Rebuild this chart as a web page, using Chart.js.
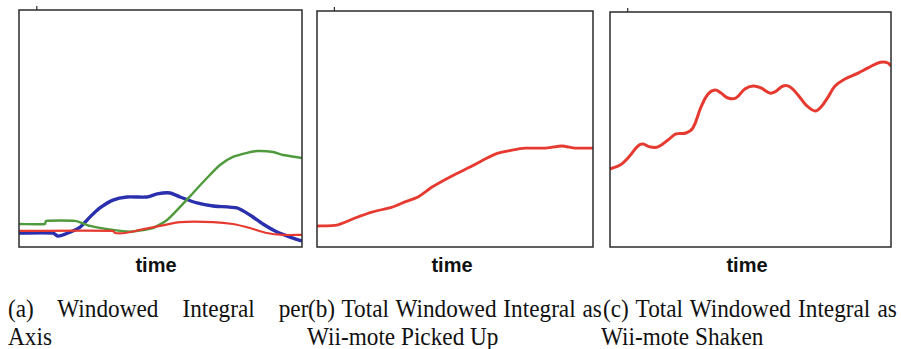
<!DOCTYPE html>
<html>
<head>
<meta charset="utf-8">
<script src="https://cdn.jsdelivr.net/npm/chart.js@4"></script>
<style>
  html, body { margin: 0; padding: 0; background: #fff; }
  body { width: 901px; height: 349px; position: relative; overflow: hidden; }
  canvas { position: absolute; }
  .xlab {
    position: absolute; top: 254px; width: 80px; margin-left: -40px;
    text-align: center; font: bold 20px/22px "Liberation Sans", Arial, sans-serif; color: #111;
  }
  .cap {
    position: absolute; font: 25px/28px "Liberation Serif", "Times New Roman", serif;
    color: #111; white-space: nowrap; transform-origin: 0 0; transform: scaleX(0.93);
  }
  .cap.just { text-align: justify; text-align-last: justify; }
</style>
</head>
<body>
<canvas id="chartA" width="289" height="246" style="left:16px;top:4px"></canvas>
<canvas id="chartB" width="282" height="245" style="left:314px;top:5px"></canvas>
<canvas id="chartC" width="287" height="244" style="left:607px;top:6px"></canvas>

<div class="xlab" style="left:156px">time</div>
<div class="xlab" style="left:452px">time</div>
<div class="xlab" style="left:747px">time</div>

<div class="cap just" style="left:8px;top:295px;width:323px">(a) Windowed Integral per</div>
<div class="cap" style="left:8px;top:323px">Axis</div>
<div class="cap just" style="left:308px;top:295px;width:316px">(b) Total Windowed Integral as</div>
<div class="cap" style="left:307px;top:323px">Wii-mote Picked Up</div>
<div class="cap just" style="left:603px;top:295px;width:316px">(c) Total Windowed Integral as</div>
<div class="cap" style="left:601px;top:323px">Wii-mote Shaken</div>

<script>
// ── Data: time is 0–100 across each panel, value 0–100 up each panel ──────────
// (a) windowed integral per axis
const aGreenT = [0, 9.2, 9.5, 19.8, 25.1, 33.2, 39.2, 47.3, 52.3, 56.9, 61.5, 66.4, 71.0, 75.6, 80.6, 84.1, 89.8, 93.3, 100];
const aGreenV = [9.7, 9.7, 11.0, 11.0, 8.9, 7.2, 6.5, 8.0, 11.4, 16.9, 22.8, 29.1, 34.6, 38.0, 39.7, 40.5, 40.1, 38.8, 37.6];

const aBlueT = [0, 12.0, 13.8, 17.3, 21.6, 25.1, 28.6, 33.2, 38.2, 45.2, 48.8, 53.4, 56.9, 62.9, 68.6, 77.0, 81.6, 86.2, 91.2, 95.8, 100];
const aBlueV = [5.9, 5.9, 4.6, 5.9, 8.4, 12.7, 16.5, 19.8, 21.1, 21.1, 22.4, 22.8, 21.1, 18.6, 17.3, 16.5, 13.5, 9.7, 6.3, 4.2, 2.5];

const aRedT = [0, 33.2, 33.9, 37.5, 42.8, 49.8, 56.9, 68.6, 75.6, 81.6, 87.6, 93.3, 100];
const aRedV = [6.8, 6.8, 5.9, 5.9, 7.2, 8.9, 10.5, 10.5, 9.7, 8.0, 5.9, 5.1, 5.1];

// (b) total windowed integral, wii-mote picked up
const bT = [0, 7.2, 13.8, 19.9, 27.2, 31.9, 36.6, 41.7, 48.9, 56.2, 60.9, 65.6, 70.7, 75.4, 82.6, 88.8, 93.5, 100];
const bV = [8.9, 9.3, 12.3, 14.8, 16.9, 19.1, 21.2, 25.4, 30.1, 34.3, 37.3, 39.8, 41.1, 41.9, 41.9, 42.8, 41.9, 41.9];

// (c) total windowed integral, wii-mote shaken
const cT = [0, 3.6, 6.4, 10.0, 11.7, 14.2, 17.1, 20.6, 23.5, 27.0, 29.5, 32.4, 34.9, 37.4, 39.5, 42.0, 44.8, 48.0, 50.9, 53.7,
            56.9, 58.7, 61.6, 64.1, 66.9, 69.8, 73.0, 75.1, 77.6, 80.1, 83.6, 88.3, 91.8, 95.4, 97.2, 98.9, 100];
const cV = [33.2, 34.9, 37.9, 43.0, 43.8, 42.6, 42.6, 45.5, 48.1, 48.5, 50.6, 59.6, 65.1, 66.8, 65.5, 63.4, 63.4, 67.2, 68.5, 67.7,
            65.5, 66.0, 68.5, 68.1, 64.7, 60.4, 57.9, 59.6, 63.8, 68.5, 71.5, 74.0, 76.2, 78.3, 78.7, 78.3, 77.0];

// small tick mark above each frame
const topTicks = [6.3];

const COLORS = {
  red:   "#e63a30",
  green: "#4f9a3c",
  blue:  "#2a2fae",
  frame: "#2b2b2b",
};

function pts(ts, vs) {
  return ts.map((t, i) => ({ x: t, y: vs[i] }));
}

// ── Frame plugin: box round the plot area plus the little top tick ───────────
const framePlugin = {
  id: "frame",
  afterDraw(chart) {
    const { ctx, chartArea: a, scales } = chart;
    ctx.save();
    ctx.strokeStyle = COLORS.frame;
    ctx.lineWidth = 1.5;
    ctx.strokeRect(a.left, a.top, a.right - a.left, a.bottom - a.top);
    ctx.lineWidth = 1.2;
    topTicks.forEach((v) => {
      const x = scales.x.getPixelForValue(v);
      ctx.beginPath();
      ctx.moveTo(x, a.top - 4);
      ctx.lineTo(x, a.top);
      ctx.stroke();
    });
    ctx.restore();
  },
};

function makeChart(id, datasets, tension) {
  return new Chart(document.getElementById(id), {
    type: "line",
    data: {
      datasets: datasets.map((d) => ({
        data: d.data,
        borderColor: d.color,
        borderWidth: d.width,
        pointRadius: 0,
        tension: tension,
        fill: false,
      })),
    },
    options: {
      responsive: false,
      animation: false,
      layout: { padding: { top: 6, left: 3, right: 3, bottom: 3 } },
      plugins: { legend: { display: false }, tooltip: { enabled: false } },
      scales: {
        x: { type: "linear", min: 0, max: 100, display: false },
        y: { min: 0, max: 100, display: false },
      },
    },
    plugins: [framePlugin],
  });
}

makeChart("chartA", [
  { data: pts(aRedT, aRedV),     color: COLORS.red,   width: 2.2 },
  { data: pts(aGreenT, aGreenV), color: COLORS.green, width: 2.4 },
  { data: pts(aBlueT, aBlueV),   color: COLORS.blue,  width: 3.4 },
], 0.2);
makeChart("chartB", [{ data: pts(bT, bV), color: COLORS.red, width: 2.8 }], 0.2);
makeChart("chartC", [{ data: pts(cT, cV), color: COLORS.red, width: 3 }], 0.4);
</script>
</body>
</html>
